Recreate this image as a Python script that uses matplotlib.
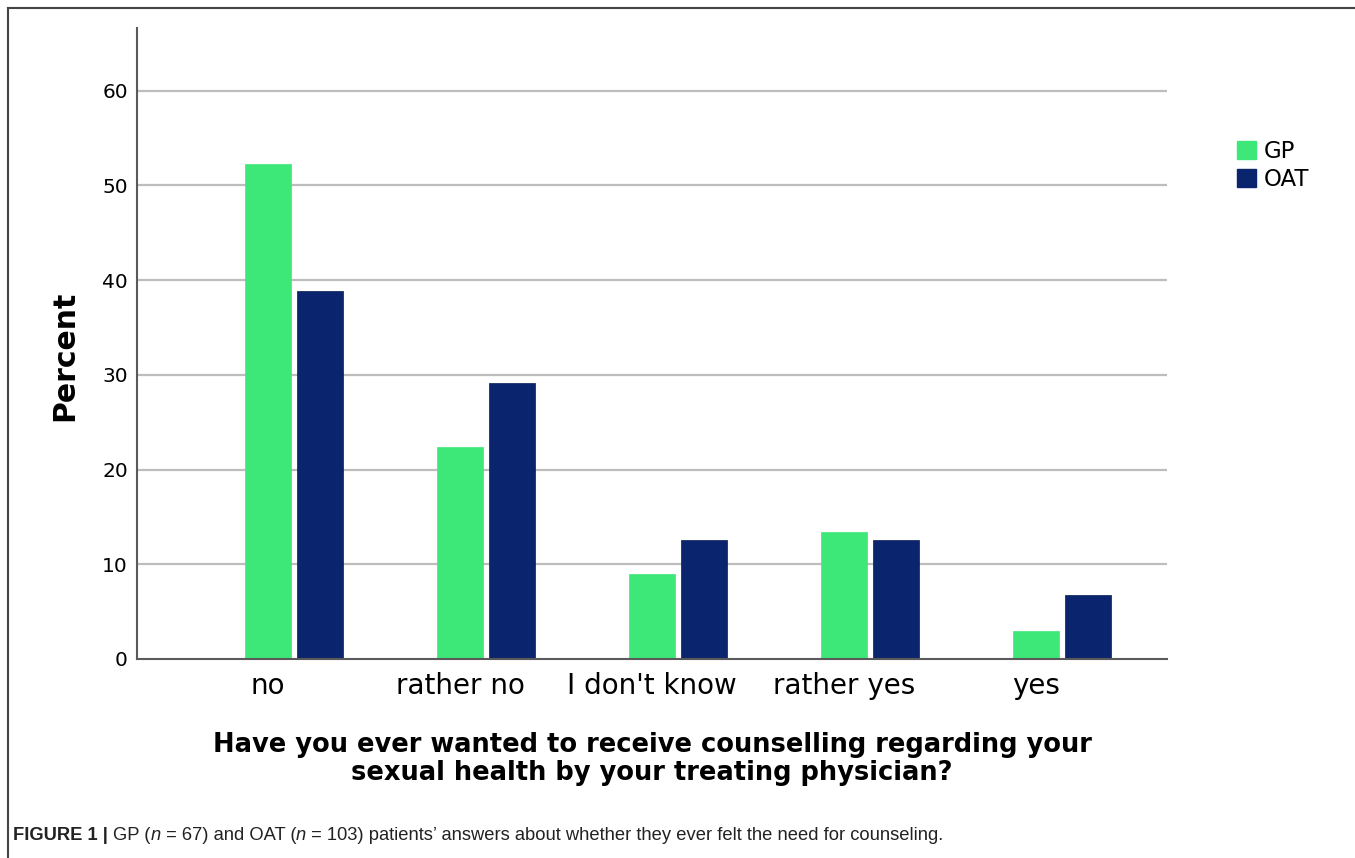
import numpy as np
import matplotlib
matplotlib.use('Agg')
import matplotlib.pyplot as plt
from matplotlib.lines import Line2D
from matplotlib.patches import Patch
from matplotlib.offsetbox import TextArea, HPacker, AnchoredOffsetbox

# data: percent of patients per answer
answers = ['no', 'rather no', "I don't know", 'rather yes', 'yes']
gp_percent = [52.2, 22.4, 9.0, 13.4, 3.0]      # n = 67
oat_percent = [38.8, 29.1, 12.6, 12.6, 6.8]    # n = 103
series_names = ['GP', 'OAT']
y_ticks = [0, 10, 20, 30, 40, 50, 60]

gp_color = '#3ee878'
oat_color = '#0a256e'
grid_color = '#bdbdbd'
axis_color = '#5a5a5a'

W, H = 1355, 858
fig = plt.figure(figsize=(W / 100, H / 100), dpi=100)

# axes box in pixel units of the reference
left_px, right_px, top_px, bottom_px = 137, 1167, 28, 659
ax = fig.add_axes([left_px / W, 1 - bottom_px / H,
                   (right_px - left_px) / W, (bottom_px - top_px) / H])

x = np.arange(len(answers))
bar_w = 0.24
offset = 0.271
ax.bar(x, gp_percent, bar_w, color=gp_color, edgecolor=gp_color, linewidth=0.5,
       zorder=3, label=series_names[0])
ax.bar(x + offset, oat_percent, bar_w, color=oat_color, edgecolor='#061a55', linewidth=0.5,
       zorder=3, label=series_names[1])

ax.set_xlim(-0.683, 4.681)
ax.set_ylim(0, 66.6)

ax.set_yticks(y_ticks)
ax.set_yticklabels([str(t) for t in y_ticks], fontsize=14.5, family='DejaVu Sans')
ax.set_xticks(x)
ax.set_xticklabels(answers, fontsize=20, family='DejaVu Sans')
ax.tick_params(axis='y', length=0, pad=6.5)
ax.tick_params(axis='x', length=0, pad=9)

for t in y_ticks[1:]:
    ax.axhline(t, color=grid_color, linewidth=1.6, zorder=1)

for side in ['top', 'right']:
    ax.spines[side].set_visible(False)
for side in ['left', 'bottom']:
    ax.spines[side].set_color(axis_color)
    ax.spines[side].set_linewidth(1.5)
    ax.spines[side].set_zorder(4)

# axis titles
fig.text(65 / W, 1 - 356 / H, 'Percent', rotation=90, ha='center', va='center',
         fontsize=21.5, fontweight='bold', family='DejaVu Sans')
fig.text((left_px + right_px) / 2 / W, 1 - 759 / H,
         'Have you ever wanted to receive counselling regarding your\n'
         'sexual health by your treating physician?',
         ha='center', va='center', fontsize=18.5, fontweight='bold',
         family='DejaVu Sans', linespacing=1.05)

# legend
handles = [Patch(facecolor=gp_color, edgecolor=gp_color),
           Patch(facecolor=oat_color, edgecolor=oat_color)]
fig.legend(handles, series_names, loc='upper left', bbox_to_anchor=(1237 / W, 1 - 140 / H),
           frameon=False, fontsize=16.5, handlelength=0.85, handleheight=0.85,
           handletextpad=0.3, labelspacing=0.2, borderpad=0, borderaxespad=0)

# frame lines on top and left of the figure panel
fig.add_artist(Line2D([8 / W, 8 / W], [0, 1 - 8 / H], transform=fig.transFigure,
                      color='#444444', linewidth=1.5))
fig.add_artist(Line2D([8 / W, 1], [1 - 8 / H, 1 - 8 / H], transform=fig.transFigure,
                      color='#444444', linewidth=1.5))

# caption with bold label and italic n
cap_font = 'Liberation Sans'
cap_size = 13.2
pieces = [('FIGURE 1 | ', 'bold', 'normal'),
          ('GP (', 'normal', 'normal'),
          ('n', 'normal', 'italic'),
          (' = 67) and OAT (', 'normal', 'normal'),
          ('n', 'normal', 'italic'),
          (' = 103) patients\u2019 answers about whether they ever felt the need for counseling.',
           'normal', 'normal')]
boxes = [TextArea(s, textprops=dict(fontsize=cap_size, family=cap_font, fontweight=w,
                                    style=st, color='#222222'))
         for s, w, st in pieces]
caption = HPacker(children=boxes, align='baseline', pad=0, sep=0)
anchored = AnchoredOffsetbox(loc='center left', child=caption, pad=0, borderpad=0,
                             frameon=False, bbox_to_anchor=(13 / W, 1 - 836 / H),
                             bbox_transform=fig.transFigure)
fig.add_artist(anchored)

fig.savefig('out.png', dpi=100)
